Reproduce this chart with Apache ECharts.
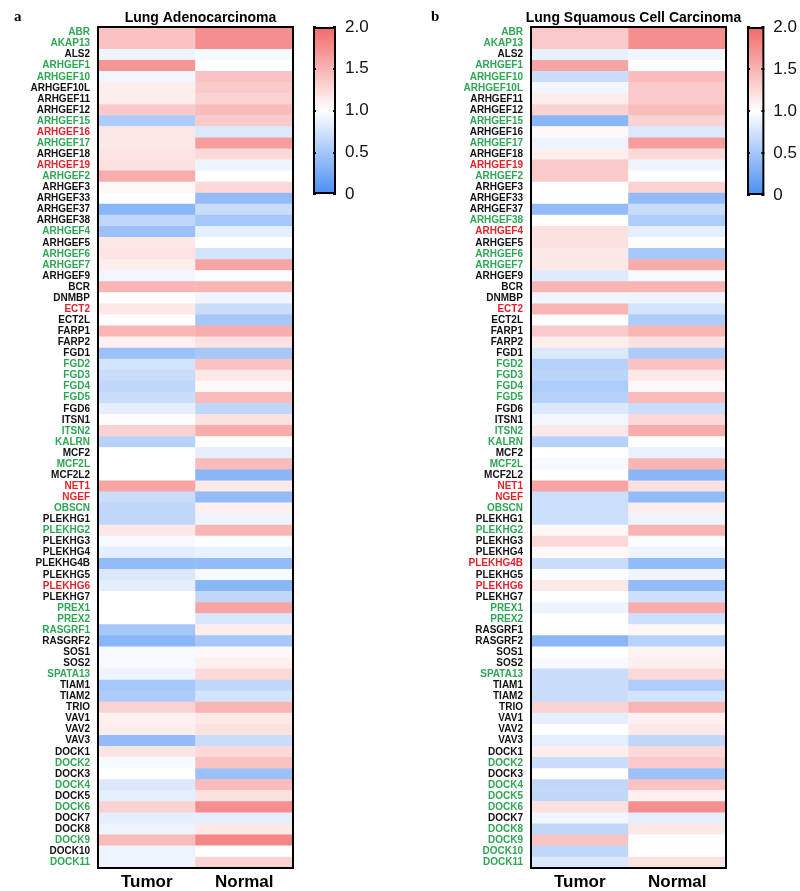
<!DOCTYPE html>
<html>
<head>
<meta charset="utf-8">
<script src="https://cdn.jsdelivr.net/npm/echarts@6/dist/echarts.min.js"></script>
<style>html,body{margin:0;padding:0;background:#fff;}#c{width:800px;height:891px;}</style>
</head>
<body>
<div id="c"></div>
<script>
const genes = ['ABR','AKAP13','ALS2','ARHGEF1','ARHGEF10','ARHGEF10L','ARHGEF11','ARHGEF12','ARHGEF15','ARHGEF16','ARHGEF17','ARHGEF18','ARHGEF19','ARHGEF2','ARHGEF3','ARHGEF33','ARHGEF37','ARHGEF38','ARHGEF4','ARHGEF5','ARHGEF6','ARHGEF7','ARHGEF9','BCR','DNMBP','ECT2','ECT2L','FARP1','FARP2','FGD1','FGD2','FGD3','FGD4','FGD5','FGD6','ITSN1','ITSN2','KALRN','MCF2','MCF2L','MCF2L2','NET1','NGEF','OBSCN','PLEKHG1','PLEKHG2','PLEKHG3','PLEKHG4','PLEKHG4B','PLEKHG5','PLEKHG6','PLEKHG7','PREX1','PREX2','RASGRF1','RASGRF2','SOS1','SOS2','SPATA13','TIAM1','TIAM2','TRIO','VAV1','VAV2','VAV3','DOCK1','DOCK2','DOCK3','DOCK4','DOCK5','DOCK6','DOCK7','DOCK8','DOCK9','DOCK10','DOCK11'];
const conditions = ['Tumor','Normal'];

const luadTumor = [1.4,1.4,0.9,1.7,0.92,1.12,1.12,1.35,0.55,1.15,1.15,1.18,1.2,1.55,1.05,1.0,0.35,0.65,0.45,1.15,1.18,1.12,0.92,1.5,1.0,1.15,1.0,1.5,1.1,0.45,0.75,0.7,0.65,0.7,0.85,1.02,1.3,0.6,1.0,1.0,1.0,1.6,0.7,0.65,0.65,1.15,0.95,0.85,0.4,0.8,0.85,1.0,1.0,1.0,0.5,0.35,0.95,0.95,0.9,0.5,0.55,1.3,1.1,1.12,0.4,1.18,0.95,1.0,0.8,0.85,1.3,0.85,0.9,1.45,0.9,0.9];
const luadNormal = [1.75,1.75,0.95,1.0,1.4,1.35,1.3,1.45,1.35,0.8,1.65,1.25,0.9,1.0,1.25,0.4,0.7,0.5,0.85,1.0,0.75,1.6,0.97,1.5,0.92,0.7,0.5,1.55,1.2,0.5,1.4,1.15,1.05,1.45,0.65,1.2,1.55,1.02,0.85,1.45,0.35,1.15,0.4,1.1,0.9,1.5,0.98,0.88,0.4,0.95,0.35,0.65,1.6,0.78,1.12,0.5,1.05,1.1,1.25,0.65,0.75,1.5,1.15,1.2,0.7,1.25,1.4,0.45,1.45,1.2,1.75,0.85,1.15,1.8,1.0,1.3];
const luscTumor = [1.35,1.35,0.88,1.6,0.7,0.93,1.12,1.3,0.35,1.05,0.9,1.12,1.35,1.35,1.0,1.0,0.4,1.0,1.2,1.2,1.15,1.15,0.82,1.5,0.92,1.5,1.0,1.35,1.12,0.8,0.6,0.62,0.55,0.6,0.8,0.92,1.15,0.6,1.0,0.95,1.0,1.6,0.72,0.72,0.72,1.05,1.25,1.05,0.7,0.98,1.15,1.0,0.9,1.0,1.0,0.35,1.0,0.95,0.7,0.7,0.7,1.3,0.85,1.0,0.85,1.12,0.7,1.0,0.65,0.65,1.2,0.92,0.65,1.4,0.65,0.8];
const luscNormal = [1.75,1.75,0.92,1.0,1.45,1.35,1.35,1.45,1.3,0.8,1.65,1.25,0.9,1.0,1.3,0.4,0.7,0.55,0.85,1.02,0.5,1.55,0.95,1.5,0.9,0.75,0.55,1.5,1.2,0.55,1.4,1.15,1.05,1.45,0.7,1.25,1.55,1.0,0.88,1.5,0.35,1.2,0.4,1.12,0.9,1.5,0.98,0.9,0.4,0.92,0.4,0.72,1.55,0.72,1.05,0.6,1.08,1.1,1.25,0.55,0.75,1.5,1.1,1.15,0.65,1.25,1.35,0.45,1.4,1.1,1.75,0.85,1.15,1.0,1.0,1.2];

const luadGreen = ['ABR','AKAP13','ARHGEF1','ARHGEF10','ARHGEF15','ARHGEF17','ARHGEF2','ARHGEF4','ARHGEF6','ARHGEF7','FGD2','FGD3','FGD4','FGD5','ITSN2','KALRN','MCF2L','OBSCN','PLEKHG2','PREX1','PREX2','RASGRF1','SPATA13','DOCK2','DOCK4','DOCK6','DOCK9','DOCK11'];
const luadRed = ['ARHGEF16','ARHGEF19','ECT2','NET1','NGEF','PLEKHG6'];
const luscGreen = ['ABR','AKAP13','ARHGEF1','ARHGEF10','ARHGEF10L','ARHGEF15','ARHGEF17','ARHGEF2','ARHGEF38','ARHGEF6','ARHGEF7','FGD2','FGD3','FGD4','FGD5','ITSN2','KALRN','MCF2L','OBSCN','PLEKHG2','PREX1','PREX2','SPATA13','DOCK2','DOCK4','DOCK5','DOCK6','DOCK8','DOCK9','DOCK10','DOCK11'];
const luscRed = ['ARHGEF19','ARHGEF4','ECT2','NET1','NGEF','PLEKHG4B','PLEKHG6'];

const titles = ['Lung Adenocarcinoma','Lung Squamous Cell Carcinoma'];
const panelLetters = ['a','b'];
const scaleMin = 0, scaleMax = 2, scaleStep = 0.5;

const BLUE = '#4a8ef2', WHITE = '#ffffff', RED = '#f26868';
const GREEN_T = '#2ea653', RED_T = '#e3232b', BLACK_T = '#111';

function cells(t, n) {
  const out = [];
  genes.forEach((g, i) => { out.push([0, i, t[i]]); out.push([1, i, n[i]]); });
  return out;
}

const heatGrids = [
  {left: 98, top: 27, width: 195, height: 841},
  {left: 531, top: 27, width: 195, height: 841}
];
const barGrids = [
  {left: 313, top: 27, width: 23, height: 167},
  {left: 747, top: 27, width: 21, height: 168}
];

const chart = echarts.init(document.getElementById('c'), null, {renderer: 'canvas'});
const grids = [...heatGrids, ...barGrids];
const xAxes = [], yAxes = [], series = [];
const panels = [[luadTumor, luadNormal, luadGreen, luadRed], [luscTumor, luscNormal, luscGreen, luscRed]];
const lineStyle = {color: '#000', width: 2};

panels.forEach((p, k) => {
  const green = p[2], red = p[3];
  const xi = xAxes.length, yi = yAxes.length;
  xAxes.push({type: 'category', gridIndex: k, data: conditions, position: 'bottom', z: 10,
    axisLine: {show: true, lineStyle}, axisTick: {show: false},
    axisLabel: {fontFamily: 'Liberation Sans, Arial', fontWeight: 'bold', fontSize: 17, color: '#000', margin: 6}});
  xAxes.push({type: 'category', gridIndex: k, data: conditions, position: 'top', z: 10,
    axisLine: {show: true, lineStyle}, axisTick: {show: false}, axisLabel: {show: false}});
  yAxes.push({type: 'category', gridIndex: k, data: genes, inverse: true, position: 'left', z: 10,
    axisLine: {show: true, lineStyle}, axisTick: {show: false},
    axisLabel: {interval: 0, margin: 8, fontFamily: 'Liberation Sans, Arial', fontWeight: 'bold', fontSize: 10,
      formatter: v => (green.includes(v) ? '{g|' : red.includes(v) ? '{r|' : '{k|') + v + '}',
      rich: {
        g: {color: GREEN_T, fontFamily: 'Liberation Sans, Arial', fontWeight: 'bold', fontSize: 10},
        r: {color: RED_T, fontFamily: 'Liberation Sans, Arial', fontWeight: 'bold', fontSize: 10},
        k: {color: BLACK_T, fontFamily: 'Liberation Sans, Arial', fontWeight: 'bold', fontSize: 10}
      }}});
  yAxes.push({type: 'category', gridIndex: k, data: genes, inverse: true, position: 'right', z: 10,
    axisLine: {show: true, lineStyle}, axisTick: {show: false}, axisLabel: {show: false}});
  series.push({type: 'heatmap', xAxisIndex: xi, yAxisIndex: yi, data: cells(p[0], p[1]),
    itemStyle: {borderWidth: 0}, emphasis: {disabled: true}, progressive: 0});
});

barGrids.forEach((g, j) => {
  const gi = 2 + j;
  const xi = xAxes.length, yi = yAxes.length;
  xAxes.push({type: 'category', gridIndex: gi, data: ['scale'], show: false});
  yAxes.push({type: 'value', gridIndex: gi, min: scaleMin, max: scaleMax, interval: scaleStep, position: 'right', z: 10,
    splitLine: {show: false}, axisLine: {show: false},
    axisTick: {show: true, inside: true, length: 3, lineStyle: {color: '#000', width: 2}},
    axisLabel: {margin: 9, fontFamily: 'Liberation Sans, Arial', fontSize: 17, color: '#111',
      formatter: v => v === 0 ? '0' : v.toFixed(1)}});
  yAxes.push({type: 'value', gridIndex: gi, min: scaleMin, max: scaleMax, interval: scaleStep, position: 'left', z: 10,
    splitLine: {show: false}, axisLine: {show: false},
    axisTick: {show: true, inside: true, length: 3, lineStyle: {color: '#000', width: 2}},
    axisLabel: {show: false}});
  series.push({type: 'bar', xAxisIndex: xi, yAxisIndex: yi, data: [scaleMax], barWidth: '100%', silent: true,
    itemStyle: {borderColor: '#000', borderWidth: 2,
      color: new echarts.graphic.LinearGradient(0, 0, 0, 1, [
        {offset: 0, color: RED}, {offset: 0.5, color: WHITE}, {offset: 1, color: BLUE}])}});
});

const titleComps = [];
heatGrids.forEach((g, k) => {
  titleComps.push({text: titles[k], left: g.left + g.width / 2, top: 6, textAlign: 'center',
    textStyle: {fontFamily: 'Liberation Sans, Arial', fontWeight: 'bold', fontSize: 14, color: '#000'}});
});
titleComps.push({text: panelLetters[0], left: 9, top: 5,
  textStyle: {fontFamily: 'Liberation Serif, Times New Roman', fontWeight: 'bold', fontSize: 15, color: '#000'}});
titleComps.push({text: panelLetters[1], left: 426, top: 5,
  textStyle: {fontFamily: 'Liberation Serif, Times New Roman', fontWeight: 'bold', fontSize: 15, color: '#000'}});

chart.setOption({
  animation: false,
  backgroundColor: '#fff',
  title: titleComps,
  grid: grids,
  xAxis: xAxes,
  yAxis: yAxes,
  visualMap: [
    {type: 'continuous', show: false, min: scaleMin, max: scaleMax, seriesIndex: [0, 1],
      inRange: {color: [BLUE, WHITE, RED]}}
  ],
  series
});
</script>
</body>
</html>
